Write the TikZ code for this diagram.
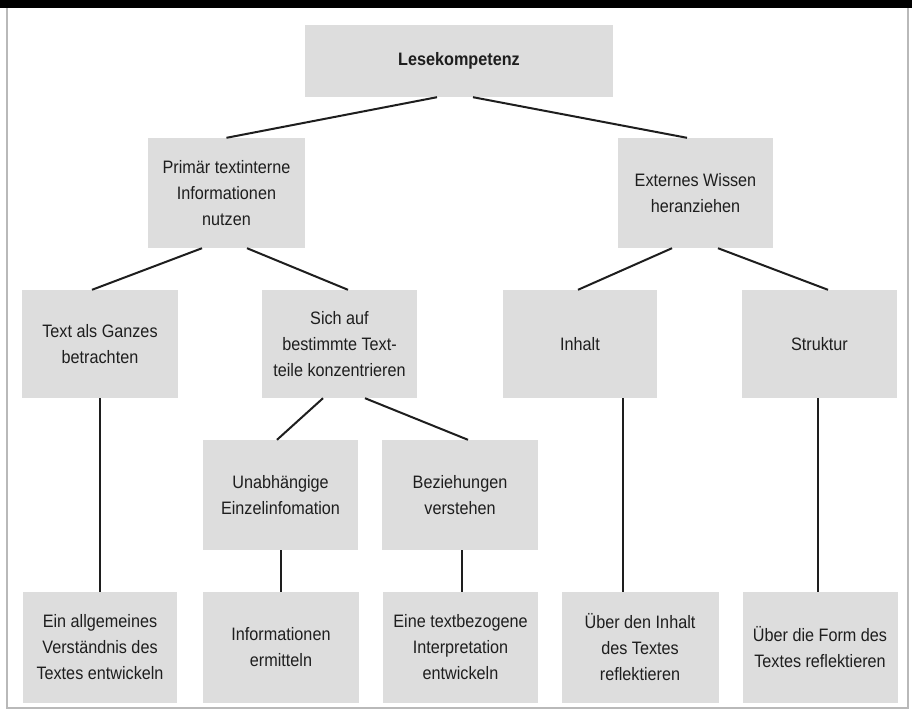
\documentclass[tikz,border=0pt]{standalone}
\usepackage{fontspec}
\setmainfont{Liberation Sans}[FakeStretch=0.9]
\definecolor{boxgray}{RGB}{221,221,221}
\definecolor{framegray}{RGB}{185,185,185}
\definecolor{inkc}{RGB}{30,30,30}
\tikzset{
  kbox/.style={fill=boxgray, draw=none, align=center, inner sep=0pt,
    font=\fontsize{18pt}{26pt}\selectfont, text=inkc},
  conn/.style={draw=inkc, line width=2pt},
}
\begin{document}
\begin{tikzpicture}[x=1pt,y=-1pt]
\useasboundingbox (0,0) rectangle (912,710);
\fill[white] (0,0) rectangle (912,710);
% header bar and frame
\fill[black] (0,0) rectangle (912,8);
\draw[framegray, line width=1.5pt] (7,8) -- (7,708) -- (908,708) -- (908,8);
% nodes
\node[kbox, minimum width=308pt, minimum height=72pt, font=\fontsize{18pt}{26pt}\selectfont\bfseries] (L) at (459,61) {Lesekompetenz};
\node[kbox, minimum width=157pt, minimum height=110pt] (P) at (226.5,193) {Primär textinterne\\Informationen\\nutzen};
\node[kbox, minimum width=155pt, minimum height=110pt] (E) at (695.5,193) {Externes Wissen\\heranziehen};
\node[kbox, minimum width=156pt, minimum height=108pt] (T) at (100,344) {Text als Ganzes\\betrachten};
\node[kbox, minimum width=155pt, minimum height=108pt] (S) at (339.5,344) {Sich auf\\bestimmte Text-\\teile konzentrieren};
\node[kbox, minimum width=154pt, minimum height=108pt] (I) at (580,344) {Inhalt};
\node[kbox, minimum width=155pt, minimum height=108pt] (St) at (819.5,344) {Struktur};
\node[kbox, minimum width=155pt, minimum height=110pt] (U) at (280.5,495) {Unabhängige\\Einzelinfomation};
\node[kbox, minimum width=156pt, minimum height=110pt] (B) at (460,495) {Beziehungen\\verstehen};
\node[kbox, minimum width=154pt, minimum height=111pt] (b1) at (100,647.5) {Ein allgemeines\\Verständnis des\\Textes entwickeln};
\node[kbox, minimum width=156pt, minimum height=111pt] (b2) at (281,647.5) {Informationen\\ermitteln};
\node[kbox, minimum width=155pt, minimum height=111pt] (b3) at (460.5,647.5) {Eine textbezogene\\Interpretation\\entwickeln};
\node[kbox, minimum width=157pt, minimum height=111pt] (b4) at (640,647.5) {Über den Inhalt\\des Textes\\reflektieren};
\node[kbox, minimum width=155pt, minimum height=111pt] (b5) at (820,647.5) {Über die Form des\\Textes reflektieren};
% connectors
\draw[conn] ([xshift=-22pt]L.south) -- (P.north);
\draw[conn] ([xshift=14pt]L.south) -- ([xshift=-8.5pt]E.north);
\draw[conn] ([xshift=-24.5pt]P.south) -- ([xshift=-8pt]T.north);
\draw[conn] ([xshift=20.5pt]P.south) -- ([xshift=8.5pt]S.north);
\draw[conn] ([xshift=-23.5pt]E.south) -- ([xshift=-2pt]I.north);
\draw[conn] ([xshift=22.5pt]E.south) -- ([xshift=8.5pt]St.north);
\draw[conn] ([xshift=-16.5pt]S.south) -- ([xshift=-3.5pt]U.north);
\draw[conn] ([xshift=25.5pt]S.south) -- ([xshift=8pt]B.north);
\draw[conn] (T.south) -- (T.south |- b1.north);
\draw[conn] (U.south) -- (U.south |- b2.north);
\draw[conn] ([xshift=2pt]B.south) -- ([xshift=2pt]B.south |- b3.north);
\draw[conn] ([xshift=43pt]I.south) -- ([xshift=43pt]I.south |- b4.north);
\draw[conn] ([xshift=-1.5pt]St.south) -- ([xshift=-1.5pt]St.south |- b5.north);
\end{tikzpicture}
\end{document}
